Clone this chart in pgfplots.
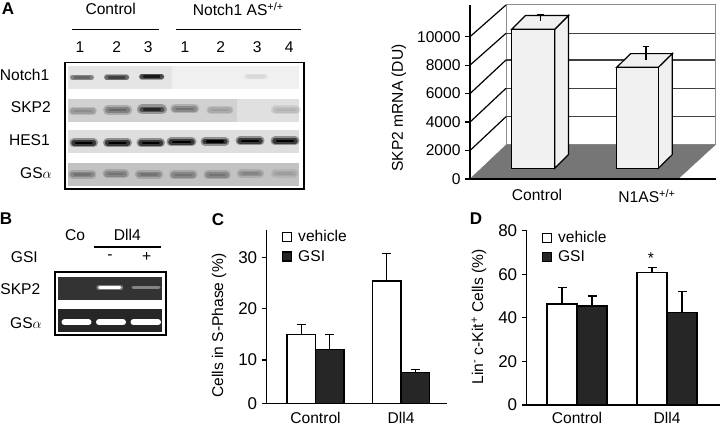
\documentclass[border=0pt]{standalone}
\usepackage{fontspec}
\setmainfont{Liberation Sans}
\usepackage{pgfplots}
\pgfplotsset{compat=1.18}
\definecolor{floorgray}{RGB}{118,118,118}
\definecolor{wallgray}{RGB}{140,140,140}
\definecolor{barface}{RGB}{240,240,240}
\definecolor{gsidark}{RGB}{38,38,38}
\newcommand{\px}{\fontsize{15.6}{18}\selectfont}
\newcommand{\pxb}{\fontsize{17}{20}\selectfont}
\tikzset{lab/.style={font=\px, inner sep=0pt}, let/.style={font=\pxb\bfseries, inner sep=0pt}}
% blurred gel band: x1 x2 y height darkness
\newcommand{\band}[5]{%
  \pgfmathsetmacro{\bla}{#1+2}\pgfmathsetmacro{\blb}{#2-2}%
  \pgfmathsetmacro{\blc}{#1+4}\pgfmathsetmacro{\bld}{#2-4}%
  \pgfmathsetmacro{\ble}{#4*.6}\pgfmathsetmacro{\blf}{#4*.3}%
  \addplot[black!#5!white, line width=#4pt, line cap=round, opacity=.35] coordinates {(\bla,#3) (\blb,#3)};
  \addplot[black!#5!white, line width=\ble pt, line cap=round, opacity=.6] coordinates {(\bla,#3) (\blb,#3)};
  \addplot[black!#5!white, line width=\blf pt, line cap=round] coordinates {(\blc,#3) (\bld,#3)};
}
\newcommand{\strip}[5]{%
  \addplot[fill=#5, draw=none] coordinates {(#1,#3) (#2,#3) (#2,#4) (#1,#4)} -- cycle;
}
\pgfplotsset{
  panel/.style={
    scale only axis, anchor=south west,
    axis lines=left, axis line style={-, line width=1.2pt, black},
    axis on top,
    tick align=outside, tick style={black, line width=1.2pt},
    major tick length=5pt, xtick style={draw=none},
    tick label style={font=\px},
    /pgf/number format/assume math mode=true,
    /pgf/number format/1000 sep={},
    scaled y ticks=false,
    yticklabel style={xshift=-1pt},
  },
  barpanel/.style={
    panel,
    ybar=0pt,
    xtick={0,1}, xticklabels={Control,Dll4},
    yticklabel style={font=\fontsize{17}{19}\selectfont},
    error bars/y dir=plus, error bars/y explicit,
    error bars/error bar style={line width=1.2pt, black},
    error bars/error mark options={rotate=90, mark size=4.5pt, line width=1.2pt, black},
    legend style={font=\px, draw=none, fill=none, anchor=north west,
      inner sep=0pt, row sep=3pt, cells={anchor=west}},
    legend image code/.code={\draw[#1, draw=black, line width=1.1pt] (0pt,-4.5pt) rectangle (9pt,4.5pt);
      \path[draw=none, fill=none] (0pt,0pt) -- (14pt,0pt);},
  },
}
\begin{document}
\begin{tikzpicture}
\path[use as bounding box] (0,0) rectangle (720pt,427pt);

% overlay in image pixels: gels, panel letters and their labels
\begin{axis}[
  at={(0pt,0pt)}, anchor=south west, scale only axis,
  width=720pt, height=427pt, axis lines=none,
  xmin=0, xmax=720, ymin=0, ymax=427, y dir=reverse, clip=false,
]
% gel A
\strip{68.3}{172}{66}{88.7}{black!10}
\strip{172}{299}{66}{88.7}{black!6}
\strip{68.3}{237}{98.7}{121.7}{black!18}
\strip{237}{299}{98.7}{121.7}{black!12}
\strip{68.3}{299}{130}{152.7}{black!13}
\strip{68.3}{299}{162.7}{185.7}{black!24}
\band{70.7}{93.3}{77.3}{5}{60}
\band{105}{128.3}{77.3}{6}{75}
\band{140}{163.3}{76.7}{6}{90}
\band{245}{266.7}{76.7}{5}{15}
\band{70.7}{95}{111}{8}{45}
\band{106}{129.3}{110}{10}{60}
\band{140}{164}{109.5}{10}{85}
\band{172.7}{196.7}{109}{9}{55}
\band{208.3}{231.7}{110}{8}{38}
\band{273.3}{298.3}{110}{9}{30}
\band{72}{95.5}{143}{9}{100}
\band{105.5}{129.5}{143}{9}{100}
\band{139}{162.5}{143}{9}{100}
\band{169}{194}{142}{9}{100}
\band{203}{227}{141.5}{9}{100}
\band{238}{262}{141}{9}{100}
\band{273}{297}{141}{9}{100}
\band{70.7}{94}{174.5}{9}{55}
\band{105}{126.7}{174}{9}{55}
\band{137.3}{160.7}{174.5}{9}{55}
\band{171.7}{195}{175}{9}{55}
\band{206}{228.3}{175}{9}{55}
\band{239.3}{261.7}{173.5}{9}{48}
\band{273.3}{296}{173.5}{9}{38}
\addplot[black, line width=1.5pt] coordinates {(65,62.3) (304,62.3) (304,189) (65,189)} -- cycle;
\addplot[black, line width=1.1pt] coordinates {(71.7,29.3) (159.3,29.3)};
\addplot[black, line width=1.1pt] coordinates {(175.7,29.3) (300.7,29.3)};
% gel B
\addplot[black, line width=1.5pt] coordinates {(55,272) (166,272) (166,335) (55,335)} -- cycle;
\strip{58.3}{162.3}{276.7}{300}{black!80}
\strip{58.3}{162.3}{309.3}{331.7}{black!85}
\addplot[white, line width=4.5pt, line cap=round, opacity=.35] coordinates {(98.5,287.7) (121,287.7)};
\addplot[white, line width=2.5pt, line cap=round] coordinates {(99.5,287.7) (120,287.7)};
\addplot[black!40, line width=3pt, line cap=round, opacity=.8] coordinates {(133,287.5) (159,287.5)};
\addplot[white, line width=6pt, line cap=round] coordinates {(64.5,322.3) (88.5,322.3)};
\addplot[white, line width=6pt, line cap=round] coordinates {(99,322.3) (123,322.3)};
\addplot[white, line width=6pt, line cap=round] coordinates {(133.5,322.3) (158,322.3)};
\addplot[black, line width=1.1pt] coordinates {(94.3,247) (161,247)};
% text of A
\node[let] at (axis cs:8,9) {A};
\node[lab] at (axis cs:110.7,9.3) {Control};
\node[lab] at (axis cs:238.3,9.3) {Notch1 AS\textsuperscript{+/+}};
\node[lab] at (axis cs:80,47.3) {1};
\node[lab] at (axis cs:116.7,47.3) {2};
\node[lab] at (axis cs:148.3,47.3) {3};
\node[lab] at (axis cs:185,47.3) {1};
\node[lab] at (axis cs:220.7,47.3) {2};
\node[lab] at (axis cs:257.3,47.3) {3};
\node[lab] at (axis cs:289.3,47.3) {4};
\node[lab, anchor=east] at (axis cs:49.5,75) {Notch1};
\node[lab, anchor=east] at (axis cs:51,106.7) {SKP2};
\node[lab, anchor=east] at (axis cs:50,140) {HES1};
\node[lab, anchor=east] at (axis cs:52,173.3) {GS$\alpha$};
% text of B
\node[let] at (axis cs:6,219) {B};
\node[lab] at (axis cs:75,235) {Co};
\node[lab] at (axis cs:127.3,235) {Dll4};
\node[lab, anchor=east] at (axis cs:38,256.7) {GSI};
\node[lab] at (axis cs:110,256.7) {-};
\node[lab] at (axis cs:146.7,256.7) {+};
\node[lab, anchor=east] at (axis cs:40.5,289.3) {SKP2};
\node[lab, anchor=east] at (axis cs:42,322.7) {GS$\alpha$};
\node[let] at (axis cs:218,220) {C};
\node[let] at (axis cs:476,219) {D};
\end{axis}

% A, right: pseudo 3D columns, x in image pixels, y in DU
\begin{axis}[
  panel, at={(470pt,248pt)}, width=246pt, height=174pt,
  xmin=470, xmax=716, ymin=0, ymax=12228, clip=false,
  ytick={0,2000,4000,6000,8000,10000},
  xtick={537,647}, xticklabels={Control,N1AS\textsuperscript{+/+}},
  xticklabel style={yshift=-2pt},
  every axis y label/.style={at={(axis description cs:-0.289,0.408)}, rotate=90, anchor=center, font=\px},
  ylabel={SKP2 mRNA (DU)},
]
\addplot[fill=white, draw=wallgray, line width=1pt] coordinates {(506,2389) (715,2389) (715,12228) (506,12228)} -- cycle;
\addplot[fill=floorgray, draw=floorgray] coordinates {(470,0) (678,0) (715,2389) (506,2389)} -- cycle;
\addplot[black!75, line width=1.1pt] coordinates {(506,4378) (715,4378)};
\addplot[black!75, line width=1.1pt] coordinates {(506,6373) (715,6373)};
\addplot[black!75, line width=1.1pt] coordinates {(506,8362) (715,8362)};
\addplot[black!75, line width=1.1pt] coordinates {(506,10238) (715,10238)};
\addplot[black, line width=1.2pt] coordinates {(470,2000) (506,4378)};
\addplot[black, line width=1.2pt] coordinates {(470,4000) (506,6373)};
\addplot[black, line width=1.2pt] coordinates {(470,6000) (506,8362)};
\addplot[black, line width=1.2pt] coordinates {(470,8000) (506,10238)};
\addplot[black, line width=1.2pt] coordinates {(470,10000) (506,12228)};
% Control
\addplot[fill=barface, draw=black, line width=1.2pt] coordinates {(554.7,752) (568.4,1715) (568.4,11483) (554.7,10520)} -- cycle;
\addplot[fill=barface, draw=black, line width=1.2pt] coordinates {(511.7,10520) (525.4,11483) (568.4,11483) (554.7,10520)} -- cycle;
\addplot[fill=barface, draw=black, line width=1.2pt] coordinates {(511.7,752) (554.7,752) (554.7,10520) (511.7,10520)} -- cycle;
\addplot[draw=none, mark=none, error bars/.cd, y dir=plus, y explicit,
  error bar style={line width=1.2pt, black},
  error mark options={rotate=90, mark size=3.5pt, line width=1.2pt, black}]
  coordinates {(540.3,11124) +- (0,422)};
% N1AS
\addplot[fill=barface, draw=black, line width=1.2pt] coordinates {(658.3,752) (672.3,1715) (672.3,8812) (658.3,7849)} -- cycle;
\addplot[fill=barface, draw=black, line width=1.2pt] coordinates {(616.7,7849) (630.7,8812) (672.3,8812) (658.3,7849)} -- cycle;
\addplot[fill=barface, draw=black, line width=1.2pt] coordinates {(616.7,752) (658.3,752) (658.3,7849) (616.7,7849)} -- cycle;
\addplot[draw=none, mark=none, error bars/.cd, y dir=plus, y explicit,
  error bar style={line width=1.2pt, black},
  error mark options={rotate=90, mark size=3pt, line width=1.2pt, black}]
  coordinates {(646,8362) +- (0,935)};
\end{axis}

% C
\begin{axis}[
  barpanel, at={(266.7pt,23.3pt)}, width=180pt, height=173.7pt,
  xmin=-0.571, xmax=1.534, ymin=1.48, ymax=35.34, bar width=28.5pt,
  ytick={1.48,10,20,30}, yticklabels={0,10,20,30},
  xticklabel style={inner sep=0pt, yshift=-3pt},
  every axis y label/.style={at={(axis description cs:-0.265,0.449)}, rotate=90, anchor=center, font=\px},
  ylabel={Cells in S-Phase (\%)},
  legend style={at={(0.082,1.01)}},
]
\addplot[fill=white, draw=black, line width=1.2pt] coordinates {(0,15.0) +- (0,1.96) (1,25.4) +- (0,5.4)};
\addplot[fill=gsidark, draw=black, line width=1.2pt] coordinates {(0,12.1) +- (0,2.9) (1,7.6) +- (0,0.6)};
\legend{vehicle,GSI}
\end{axis}

% D
\begin{axis}[
  barpanel, at={(526.7pt,22pt)}, width=193.3pt, height=174.3pt,
  xmin=-0.559, xmax=1.589, ymin=0, ymax=80, bar width=30pt,
  ytick={0,20,40,60,80},
  xticklabel style={inner sep=0pt, yshift=-2pt},
  every axis y label/.style={at={(axis description cs:-0.247,0.505)}, rotate=90, anchor=center, font=\px},
  ylabel={Lin\textsuperscript{-} c-Kit\textsuperscript{+} Cells (\%)},
  legend style={at={(0.0755,1.01)}},
  clip=false,
]
\addplot[fill=white, draw=black, line width=1.2pt] coordinates {(0,46.35) +- (0,7.45) (1,60.7) +- (0,2.3)};
\addplot[fill=gsidark, draw=black, line width=1.2pt] coordinates {(0,45.4) +- (0,4.6) (1,42.5) +- (0,9.5)};
\node[font=\px] at (axis cs:0.822,67.5) {*};
\legend{vehicle,GSI}
\end{axis}
\end{tikzpicture}
\end{document}
